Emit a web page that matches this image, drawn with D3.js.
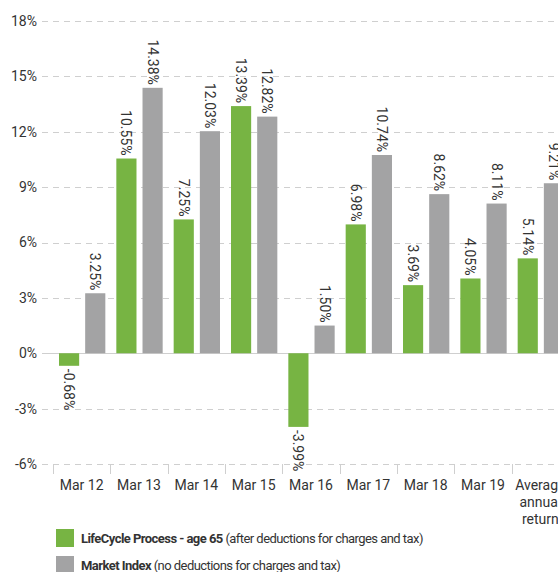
<!DOCTYPE html>
<html>
<head>
<meta charset="utf-8">
<script src="https://cdn.jsdelivr.net/npm/d3@7"></script>
<style>
  body { margin: 0; background: #fff; }
  text { font-family: Roboto, "DejaVu Sans", sans-serif; fill: #333; }
  .legendText { letter-spacing: -0.55px; }
</style>
</head>
<body>
<div id="chart"></div>
<script>
// chart data
let categories = ["Mar 12", "Mar 13", "Mar 14", "Mar 15", "Mar 16", "Mar 17", "Mar 18", "Mar 19", "Average annual return"];
let lifeCycle = [-0.68, 10.55, 7.25, 13.39, -3.99, 6.98, 3.69, 4.05, 5.14];
let marketIndex = [3.25, 14.38, 12.03, 12.82, 1.50, 10.74, 8.62, 8.11, 9.21];
let lifeCycleLabels = ["-0.68%", "10.55%", "7.25%", "13.39%", "-3.99%", "6.98%", "3.69%", "4.05%", "5.14%"];
let marketLabels = ["3.25%", "14.38%", "12.03%", "12.82%", "1.50%", "10.74%", "8.62%", "8.11%", "9.21%"];
let yTicks = [-6, -3, 0, 3, 6, 9, 12, 15, 18];
let seriesKeys = ["lc", "mi"];

let svgWidth = 558;
let svgHeight = 572;

let svg = d3.select("#chart")
  .append("svg")
  .attr("width", svgWidth)
  .attr("height", svgHeight);

// scales
let y = d3.scaleLinear()
  .domain([-6, 18])
  .range([464, 21]);

let x0 = d3.scaleBand()
  .domain(categories)
  .range([53, 569]);

let x1 = d3.scaleBand()
  .domain(seriesKeys)
  .range([6, x0.bandwidth() - 5])
  .paddingInner(0.23);

let colors = { lc: "#77b443", mi: "#a3a3a4" };

// grid lines
svg.append("g")
  .selectAll("line")
  .data(yTicks)
  .enter()
  .append("line")
  .attr("x1", 42)
  .attr("x2", svgWidth)
  .attr("y1", d => Math.round(y(d)) + 0.5)
  .attr("y2", d => Math.round(y(d)) + 0.5)
  .attr("stroke", "#cfcfcf")
  .attr("stroke-width", 1)
  .attr("stroke-dasharray", d => d === 0 ? null : "6,5");

// y tick labels
svg.append("g")
  .selectAll("text")
  .data(yTicks)
  .enter()
  .append("text")
  .attr("x", 37)
  .attr("y", d => y(d))
  .attr("dy", "0.35em")
  .attr("text-anchor", "end")
  .attr("font-size", "14px")
  .text(d => d + "%");

// bottom ticks at band edges
let edges = categories.map(c => x0(c));
svg.append("g")
  .selectAll("line")
  .data(edges)
  .enter()
  .append("line")
  .attr("x1", d => Math.round(d) + 0.5)
  .attr("x2", d => Math.round(d) + 0.5)
  .attr("y1", y(-6))
  .attr("y2", y(-6) + 10)
  .attr("stroke", "#cfcfcf");

// bars
let rows = categories.map((c, i) => [
  { cat: c, key: "lc", value: lifeCycle[i], label: lifeCycleLabels[i] },
  { cat: c, key: "mi", value: marketIndex[i], label: marketLabels[i] }
]).flat();

let bars = svg.append("g");
bars.selectAll("rect")
  .data(rows)
  .enter()
  .append("rect")
  .attr("x", d => x0(d.cat) + x1(d.key))
  .attr("width", x1.bandwidth())
  .attr("y", d => Math.min(y(d.value), y(0)))
  .attr("height", d => Math.abs(y(d.value) - y(0)))
  .attr("fill", d => colors[d.key]);

// value labels, rotated
bars.selectAll("text")
  .data(rows)
  .enter()
  .append("text")
  .attr("font-size", "14px")
  .attr("text-anchor", d => d.value >= 0 ? "end" : "start")
  .attr("dominant-baseline", "central")
  .attr("transform", d => {
    let cx = x0(d.cat) + x1(d.key) + x1.bandwidth() / 2;
    let cy = d.value >= 0 ? y(d.value) - 3 : y(d.value) + 3;
    return `translate(${cx},${cy}) rotate(90)`;
  })
  .text(d => d.label);

// category labels
svg.append("g")
  .selectAll("text")
  .data(categories)
  .enter()
  .append("text")
  .attr("x", d => x0(d) + x0.bandwidth() / 2)
  .attr("y", 490)
  .attr("text-anchor", "middle")
  .attr("font-size", "14px")
  .each(function(d) {
    let words = d === "Average annual return" ? ["Average", "annual", "return"] : [d];
    d3.select(this).selectAll("tspan")
      .data(words)
      .enter()
      .append("tspan")
      .attr("x", x0(d) + x0.bandwidth() / 2)
      .attr("dy", (w, i) => i === 0 ? 0 : 17)
      .text(w => w);
  });

// legend
let legendItems = [
  { key: "lc", bold: "LifeCycle Process - age 65", rest: " (after deductions for charges and tax)", y: 529 },
  { key: "mi", bold: "Market Index", rest: " (no deductions for charges and tax)", y: 556 }
];

let legend = svg.append("g");
legend.selectAll("rect")
  .data(legendItems)
  .enter()
  .append("rect")
  .attr("x", 56)
  .attr("y", d => d.y)
  .attr("width", 18)
  .attr("height", 18)
  .attr("fill", d => colors[d.key]);

let legendText = legend.selectAll("text")
  .data(legendItems)
  .enter()
  .append("text")
  .attr("class", "legendText")
  .attr("x", 81)
  .attr("y", d => d.y + 14)
  .attr("font-size", "13px");

legendText.append("tspan")
  .attr("font-weight", "bold")
  .text(d => d.bold);
legendText.append("tspan")
  .text(d => d.rest);
</script>
</body>
</html>
